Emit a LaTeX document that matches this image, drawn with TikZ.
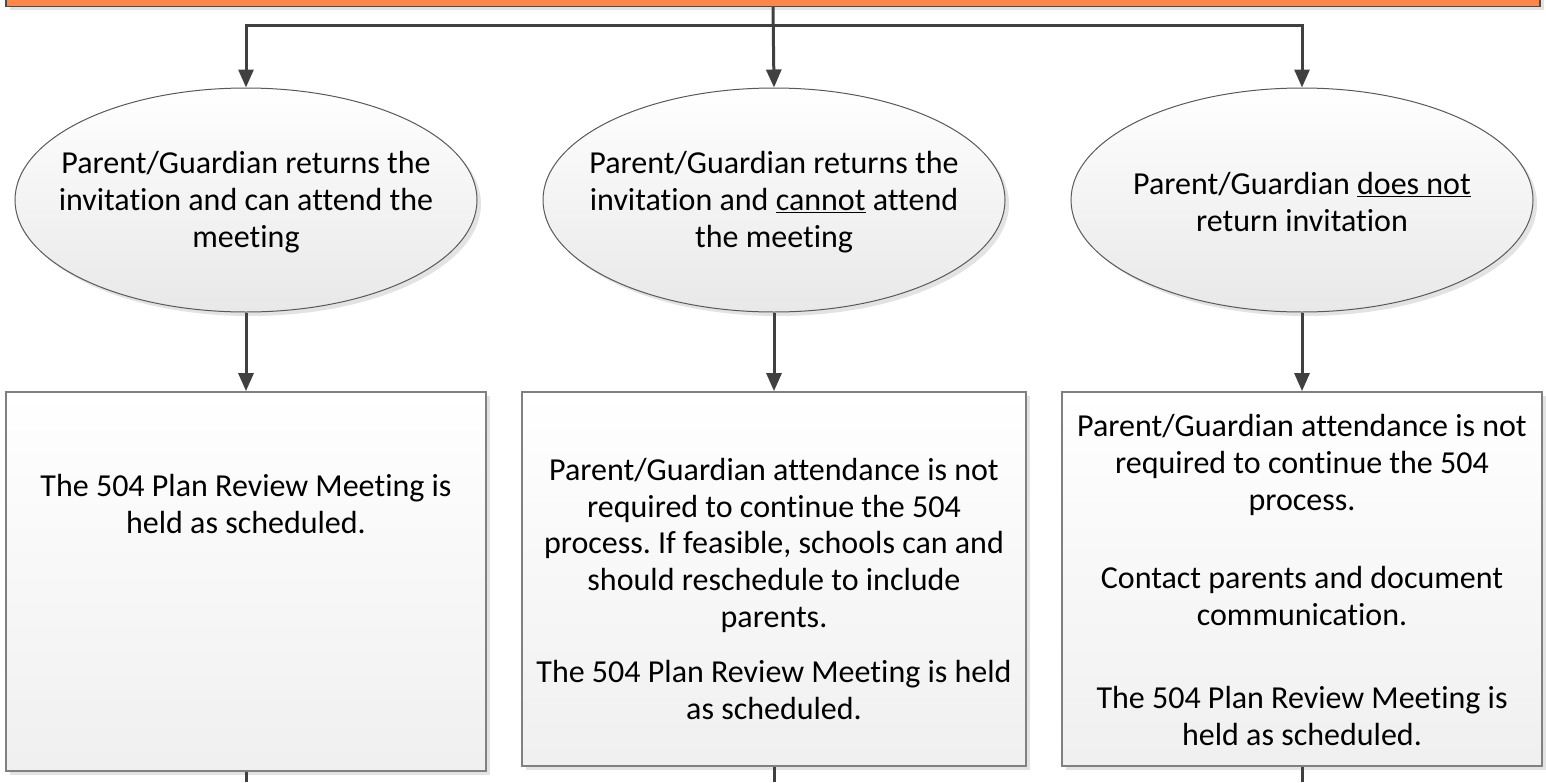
\documentclass[tikz,border=0pt]{standalone}
\usepackage{fontspec}
\setmainfont{Carlito}[Ligatures=NoCommon]
\usetikzlibrary{arrows.meta,shapes.geometric,shadows,positioning}
\definecolor{barorange}{RGB}{255,136,72}
\definecolor{linegrey}{RGB}{64,64,64}
\definecolor{edgegrey}{RGB}{128,128,128}
\frenchspacing
\begin{document}
\begin{tikzpicture}[x=1pt,y=-1pt,
	every node/.style={font=\fontsize{32}{36.7}\selectfont},
	arr/.style={draw=linegrey,line width=3pt,-{Triangle[width=15pt,length=18pt]}},
	link/.style={draw=linegrey,line width=3pt},
	shade/.style={drop shadow={shadow xshift=4pt,shadow yshift=-4pt,fill=black!11,opacity=1}},
	oval/.style={ellipse,draw=black!65,line width=1pt,minimum width=462pt,minimum height=224pt,
		inner sep=0pt,top color=white,bottom color=black!9,shade},
	panel/.style={rectangle,draw=edgegrey,line width=1.8pt,inner sep=0pt,
		top color=white,bottom color=black!6,shade},
	txt/.style={align=center,inner sep=0pt}]
	\useasboundingbox (0,0) rectangle (1546,782);

	%top bar
	\node[rectangle,draw=black!70,line width=1.5pt,fill=barorange,minimum width=1534pt,
		minimum height=40pt,anchor=south,shade] (bar) at (773,7) {};
	\coordinate (split) at (773,25); %branch point

	%answers
	\node[oval] (attend) at (246,200) {};
	\node[oval] (cannot) at (774,200) {};
	\node[oval] (noreturn) at (1302,200) {};
	\node[txt] (attendtxt) at (246,202) {Parent/Guardian returns the\\invitation and can attend the\\meeting};
	\node[txt] (cannottxt) at (774,202) {Parent/Guardian returns the\\invitation and \underline{cannot} attend\\the meeting};
	\node[txt] (noreturntxt) at (1302,202) {Parent/Guardian \underline{does not}\\return invitation};

	%outcomes
	\node[panel,minimum width=480pt,minimum height=379pt] (heldbox) at (246,581.5) {};
	\node[panel,minimum width=504pt,minimum height=374pt] (reschedbox) at (774,579) {};
	\node[panel,minimum width=480pt,minimum height=374pt] (contactbox) at (1302,579) {};
	\node[txt] (heldtxt) at (246,504) {The 504 Plan Review Meeting is\\held as scheduled.};
	\node[txt] (reschedtxt) at (774,589) {Parent/Guardian attendance is not\\required to continue the 504\\process. If feasible, schools can and\\should reschedule to include\\parents.\\[19pt]The 504 Plan Review Meeting is held\\as scheduled.};
	\node[txt] (contacttxt) at (1302,580) {Parent/Guardian attendance is not\\required to continue the 504\\process.\\[42pt]Contact parents and document\\communication.\\[46pt]The 504 Plan Review Meeting is\\held as scheduled.};

	%connectors
	\draw[arr] (bar.south) -- (cannot.north); %middle drop
	\draw[arr] (split) -| (attend.north); %left branch
	\draw[arr] (split) -| (noreturn.north); %right branch
	\draw[arr] (attend.south) -- (heldbox.north);
	\draw[arr] (cannot.south) -- (reschedbox.north);
	\draw[arr] (noreturn.south) -- (contactbox.north);

	%exits
	\coordinate (heldend) at (246,782);
	\coordinate (reschedend) at (774,782);
	\coordinate (contactend) at (1302,782);
	\draw[link] (heldbox.south) -- (heldend);
	\draw[link] (reschedbox.south) -- (reschedend);
	\draw[link] (contactbox.south) -- (contactend);
\end{tikzpicture}
\end{document}
